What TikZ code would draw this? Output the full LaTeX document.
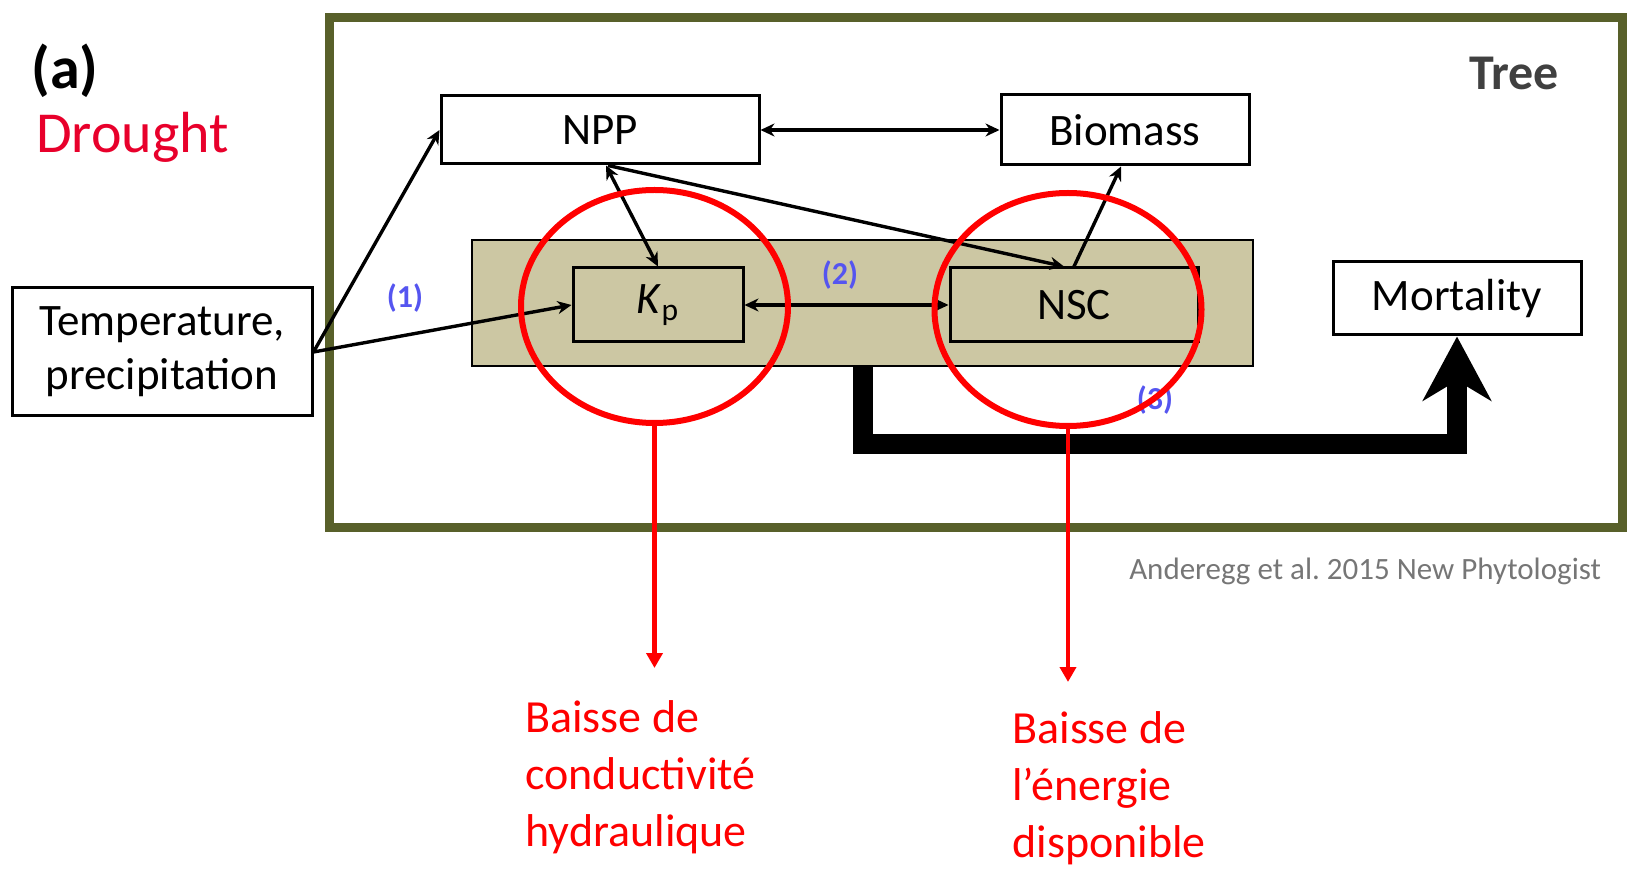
\documentclass[tikz,border=0pt]{standalone}
\usepackage{fontspec}
\setmainfont{Carlito}
\usetikzlibrary{positioning, shapes.geometric, arrows.meta}

\definecolor{framegreen}{RGB}{88,96,42}
\definecolor{bandtan}{RGB}{204,199,163}
\definecolor{labelblue}{RGB}{85,85,240}
\definecolor{droughtred}{RGB}{232,0,43}
\definecolor{notered}{RGB}{255,0,0}
\definecolor{captiongray}{RGB}{118,118,118}

\begin{document}
\frenchspacing
\begin{tikzpicture}[
    x=0.5pt, y=-0.5pt,
    >={Stealth[length=7pt, width=6.5pt]},
    % Styles
    base/.style={rectangle, draw, line width=1.5pt, inner sep=0pt, text centered, font=\fontsize{22.5}{27}\selectfont},
    box/.style={base, fill=white},
    inbox/.style={base},
    band/.style={rectangle, draw, line width=1pt, fill=bandtan, minimum width=390.5pt, minimum height=63pt},
    treebox/.style={rectangle, draw=framegreen, line width=4.5pt, fill=white, minimum width=646.5pt, minimum height=254.5pt},
    link/.style={line width=1.7pt},
    biglink/.style={-{Stealth[length=32pt, width=34pt, inset=10pt]}, line width=10pt},
    ring/.style={ellipse, draw=notered, line width=3pt, inner sep=0pt, minimum width=133.5pt, minimum height=116.5pt},
    numlabel/.style={font=\fontsize{16}{18}\selectfont\bfseries, text=labelblue},
    note/.style={align=left, anchor=north west, inner sep=0pt, text=notered, font=\fontsize{23}{28.5}\selectfont},
    pointer/.style={-{Triangle[length=7.5pt, width=8pt]}, draw=notered, line width=2.2pt}
]
    \useasboundingbox (0,0) rectangle (1628,871);

    % --- Panel title ---
    \node [font=\fontsize{30}{36}\selectfont\bfseries] (panel) at (65,71) {(a)};
    \node [anchor=base west, text=droughtred, font=\fontsize{29}{34}\selectfont] (drought) at (29,153) {Drought};

    % --- Tree frame ---
    \node [treebox] (tree) at (975.5,272.5) {};
    \node [anchor=north east, font=\fontsize{25}{30}\selectfont\bfseries, text=black!75] (treelabel) at (1566,50) {Tree};

    % --- Boxes ---
    \node [box, minimum width=150pt, minimum height=64pt, align=center] (climate) at (162,352) {Temperature,\\precipitation};
    \node [box, minimum width=159pt, minimum height=34pt] (npp) at (600,130) {NPP};
    \node [box, minimum width=124pt, minimum height=35pt] (biomass) at (1125,130) {Biomass};
    \node [band] (stores) at (862.5,303) {};
    \node [inbox, minimum width=85pt, minimum height=37pt] (kp) at (658,305) {\textit{K}\textsubscript{p}};
    \node [inbox, minimum width=124pt, minimum height=37pt] (nsc) at (1074,305) {NSC};
    \node [box, minimum width=124pt, minimum height=36.5pt] (mort) at (1457,298.5) {Mortality};

    % --- Pathway numbers ---
    \node [numlabel] (path1) at (405,298) {(1)};
    \node [numlabel] (path2) at (840,275) {(2)};
    \node [numlabel] (path3) at (1155,400) {(3)};

    % --- Connections ---
    \draw [link, ->] (climate.east) -- (npp.west);
    \draw [link, ->] (climate.east) -- (kp.west);
    \draw [link, <->] (npp.east) -- (biomass.west);
    \draw [link, <->] ([xshift=3pt]npp.south) -- (kp.north);
    \draw [link, ->] ([xshift=4pt]npp.south) -- ([xshift=-5pt]nsc.north);
    \draw [link, ->] (nsc.north) -- ([xshift=-2pt]biomass.south);
    \draw [link, <->] (kp.east) -- (nsc.west);
    \draw [biglink] (stores.south) -- ++(0,77) -| (mort.south);

    % --- Highlights ---
    \node [ring] (kpring) at (654.5,306.5) {};
    \node [ring] (nscring) at (1068,309.5) {};
    \coordinate (kptip) at (654.5,668);
    \coordinate (nsctip) at (1068,682);
    \draw [pointer] (kpring.south) -- (kptip);
    \draw [pointer] (nscring.south) -- (nsctip);

    \node [note] (kpnote) at (525,700) {Baisse de\\conductivité\\hydraulique};
    \node [note] (nscnote) at (1012,711) {Baisse de\\l’énergie\\disponible};

    % Source
    \node [anchor=base east, text=captiongray, font=\fontsize{15.5}{18}\selectfont] (source) at (1608,579) {Anderegg et al. 2015 New Phytologist};

\end{tikzpicture}
\end{document}
